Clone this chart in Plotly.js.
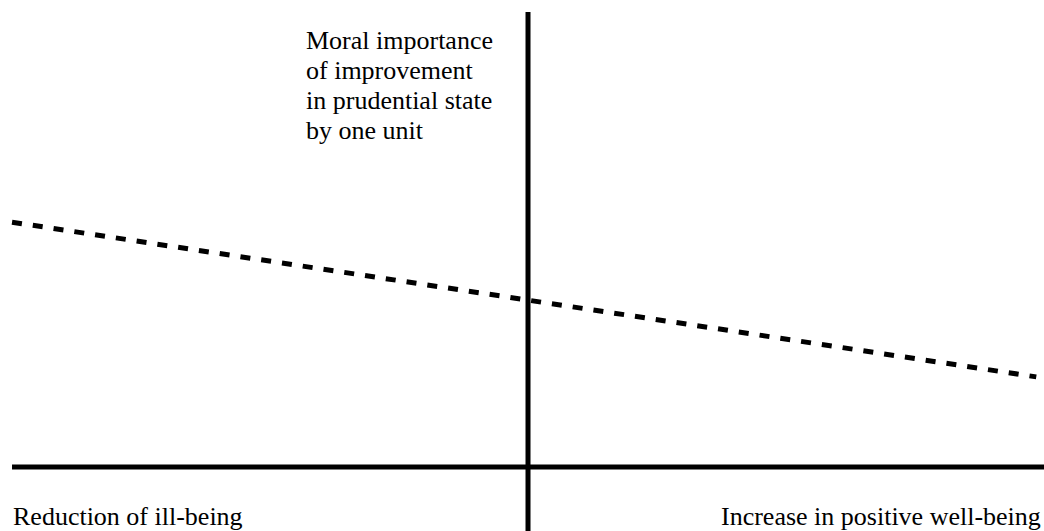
<!DOCTYPE html>
<html>
<head>
<meta charset="utf-8">
<script src="https://cdn.plot.ly/plotly-3.0.1.min.js"></script>
<style>
  html, body { margin: 0; padding: 0; background: #ffffff; }
  #chart { width: 1044px; height: 531px; }
</style>
</head>
<body>
<div id="chart"></div>
<script>
// Conceptual diagram data (x: prudential state, left = ill-being, right = positive well-being)
const curveX = [-1.0, 0.985];
const curveY = [0.538, 0.198];
const hAxisX = [-1.0, 1.0];
const hAxisY = [0, 0];
const vAxisX = [0, 0];
const vAxisY = [1.0, -0.2];
const yAxisTitleLines = ["Moral importance", "of improvement", "in prudential state", "by one unit"];
const leftLabel = "Reduction of ill-being";
const rightLabel = "Increase in positive well-being";

const font = {family: "'Liberation Serif', 'DejaVu Serif', serif", size: 26, color: "#000000"};

const traces = [
  {x: hAxisX, y: hAxisY, mode: "lines", line: {color: "#000", width: 5}, hoverinfo: "skip"},
  {x: vAxisX, y: vAxisY, mode: "lines", line: {color: "#000", width: 5}, hoverinfo: "skip"},
  {x: curveX, y: curveY, mode: "lines", line: {color: "#000", width: 5, dash: "10px,11px"}, hoverinfo: "skip"}
];

const titleY = [0.9228, 0.8663, 0.8098, 0.7533];
const annotations = yAxisTitleLines.map((t, i) => ({
  text: t, xref: "paper", yref: "paper", x: 0.2921, y: titleY[i],
  xanchor: "left", yanchor: "middle", showarrow: false, font: font, borderpad: 0
}));
annotations.push({text: leftLabel, xref: "paper", yref: "paper", x: 0.0115, y: 0.0264,
  xanchor: "left", yanchor: "middle", showarrow: false, font: font, borderpad: 0});
annotations.push({text: rightLabel, xref: "paper", yref: "paper", x: 0.998, y: 0.0264,
  xanchor: "right", yanchor: "middle", showarrow: false, font: font, borderpad: 0});

const layout = {
  width: 1044, height: 531,
  margin: {l: 0, r: 0, t: 0, b: 0, pad: 0},
  paper_bgcolor: "#ffffff", plot_bgcolor: "#ffffff",
  showlegend: false,
  font: font,
  xaxis: {range: [-1.0233, 1.0], visible: false, fixedrange: true},
  yaxis: {range: [-0.1407, 1.0264], visible: false, fixedrange: true},
  annotations: annotations
};

Plotly.newPlot("chart", traces, layout, {displayModeBar: false, staticPlot: true});
</script>
</body>
</html>
